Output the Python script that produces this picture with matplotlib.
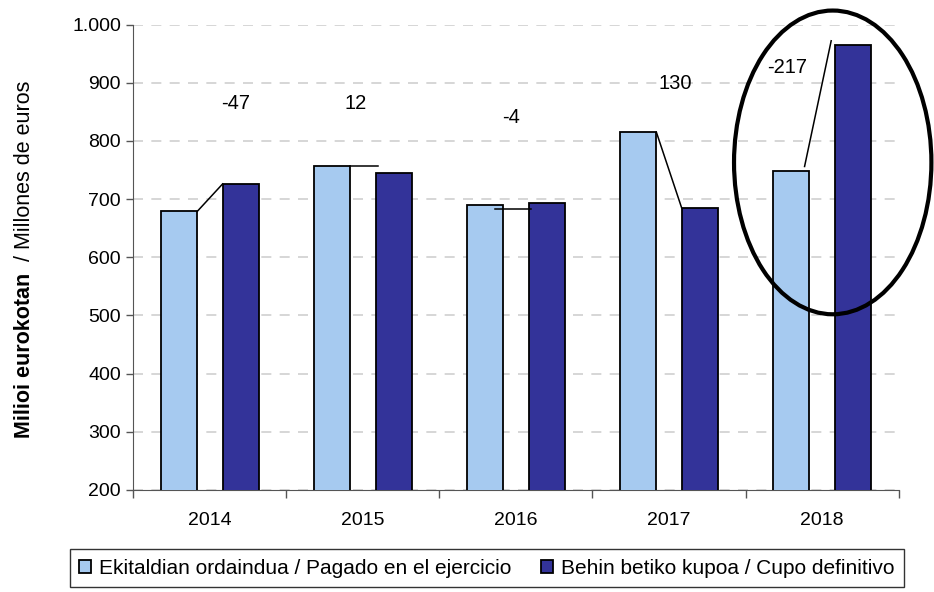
import matplotlib.pyplot as plt
from matplotlib.patches import Ellipse

plt.rcParams['font.family'] = ['Liberation Sans', 'DejaVu Sans']

years = ['2014', '2015', '2016', '2017', '2018']
pagado = [679, 757, 689, 815, 748]      # Ekitaldian ordaindua / Pagado en el ejercicio
cupo = [726, 745, 693, 685, 965]        # Behin betiko kupoa / Cupo definitivo
label_x = [0.17, 0.95, 1.97, 3.04, 3.77]
label_y = [864, 864, 840, 899, 926]

fig = plt.figure(figsize=(9.34, 5.92), dpi=100)
ax = fig.add_axes([0.1429, 0.1723, 0.8191, 0.7863])

w = 0.235
off = 0.2
x = list(range(len(years)))
b1 = ax.bar([i - off for i in x], pagado, width=w, color='#A6CAF0', edgecolor='black', linewidth=1.3, zorder=3,
            label='Ekitaldian ordaindua / Pagado en el ejercicio')
b2 = ax.bar([i + off for i in x], cupo, width=w, color='#333399', edgecolor='black', linewidth=1.3, zorder=3,
            label='Behin betiko kupoa / Cupo definitivo')

# difference labels and connector lines
for i in x:
    diff = pagado[i] - cupo[i]
    ax.text(label_x[i], label_y[i], f'{diff}', ha='center', va='center', fontsize=14.5, zorder=4)

e = w / 2
ax.plot([0 - off + e, 0 + off - e], [pagado[0], cupo[0]], color='black', lw=1.1, zorder=4)
ax.plot([1 - off + e, 1.10], [pagado[1], pagado[1]], color='black', lw=1.1, zorder=4)
ax.plot([1.86, 2.10], [683, 683], color='black', lw=1.1, zorder=4)
ax.plot([3 - off + e, 3 + off - e], [pagado[3], cupo[3]], color='black', lw=1.1, zorder=4)
ax.plot([3.886, 4.06], [756, 972], color='black', lw=1.1, zorder=4)

ax.add_patch(Ellipse((4.07, 763), 1.29, 522, fill=False, edgecolor='black', lw=3, zorder=5, clip_on=False))

ax.set_xlim(-0.5, 4.5)
ax.set_ylim(200, 1000)
ax.set_yticks(range(200, 1001, 100))
ax.set_yticklabels(['200', '300', '400', '500', '600', '700', '800', '900', '1.000'])
ax.set_xticks(x)
ax.set_xticklabels(years)
ax.set_xticks([i - 0.5 for i in range(len(years) + 1)], minor=True)
ax.tick_params(axis='x', which='major', length=0, pad=16, labelsize=14)
ax.tick_params(axis='x', which='minor', length=6, width=1, color='#555555')
ax.tick_params(axis='y', length=5, width=1, color='#555555', labelsize=14, pad=4)

ax.yaxis.grid(True, linestyle=(0, (6, 5)), color='#d0d0d0', linewidth=1.2, zorder=0)
for s in ['top', 'right']:
    ax.spines[s].set_visible(False)
ax.spines['left'].set_color('#555555')
ax.spines['bottom'].set_color('#555555')

# y label: bold Basque part, then the Spanish part right above it
H = 592.0
t1 = fig.text(0.026, 1 - 438 / H, 'Milioi eurokotan', rotation=90, ha='center', va='bottom',
              fontsize=15.5, fontweight='bold')
fig.canvas.draw()
bb = t1.get_window_extent()
fig.text(0.026, (bb.y1 + 12) / H, '/ Millones de euros', rotation=90, ha='center', va='bottom', fontsize=15.5)

leg = fig.legend(handles=[b1, b2], loc='center', bbox_to_anchor=(0.075, 0.002, 0.893, 0.076), mode='expand',
                 ncol=2, fontsize=15, frameon=True, fancybox=False, edgecolor='black',
                 handlelength=0.55, handleheight=0.55, handletextpad=0.4, columnspacing=1.0,
                 borderaxespad=0, borderpad=0.45)
leg.get_frame().set_linewidth(1.0)

fig.savefig('out.png', dpi=100)
